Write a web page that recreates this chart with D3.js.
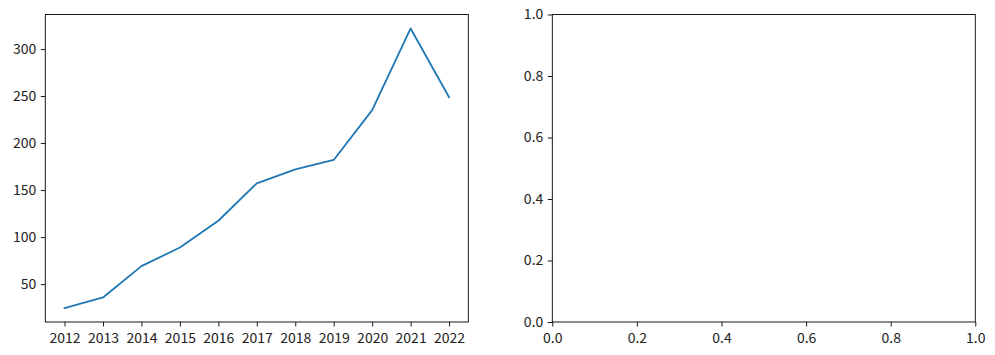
<!DOCTYPE html>
<html><head><meta charset="utf-8">
<script src="https://cdn.jsdelivr.net/npm/d3@7"></script>
<style>
html,body{margin:0;padding:0;background:#fff;}
text{font-family:"Noto Sans CJK KR","Noto Sans",sans-serif;}
</style>
</head><body>
<svg id="c" width="995" height="355"></svg>
<script>
const years = [2012,2013,2014,2015,2016,2017,2018,2019,2020,2021,2022];
const values = [24.6,35.8,69.2,88.9,117.4,157.2,172,182,235,321.8,248.7];
const leftYTicks = [50,100,150,200,250,300];
const rightTicks = [0,0.2,0.4,0.6,0.8,1.0];

const svg = d3.select("#c");
const fs = 14;
const plotTop = 14.5, plotBottom = 322;

function styleAxis(g){
  g.selectAll(".domain").remove();
  g.selectAll(".tick line").attr("stroke","#000").attr("stroke-width",0.9);
  g.selectAll(".tick text").attr("fill","#222").style("font-size",fs+"px")
   .style("font-family",'"Noto Sans CJK KR","Noto Sans",sans-serif');
}

// Left panel
{
  const L = 45.3, R = 468.3;
  const x = d3.scaleLinear().domain([2011.5,2022.5]).range([L,R]);
  const ext = d3.extent(values), pad = (ext[1]-ext[0])*0.05;
  const y = d3.scaleLinear().domain([ext[0]-pad, ext[1]+pad]).range([plotBottom, plotTop]);
  const g = svg.append("g");
  g.append("path").datum(values)
    .attr("fill","none").attr("stroke","#1f77b4").attr("stroke-width",1.8)
    .attr("stroke-linejoin","round").attr("stroke-linecap","square")
    .attr("d", d3.line().x((d,i)=>x(years[i])).y(d=>y(d)));
  const ax = g.append("g").attr("transform",`translate(0,${plotBottom})`)
    .call(d3.axisBottom(x).tickValues(years).tickFormat(d3.format("d")).tickSize(4.5).tickPadding(6.5));
  styleAxis(ax);
  const ay = g.append("g").attr("transform",`translate(${L},0)`)
    .call(d3.axisLeft(y).tickValues(leftYTicks).tickFormat(d3.format("d")).tickSize(4.5).tickPadding(4.5));
  styleAxis(ay);
  g.append("rect").attr("x",L).attr("y",plotTop).attr("width",R-L).attr("height",plotBottom-plotTop)
    .attr("fill","none").attr("stroke","#000").attr("stroke-width",0.9);
}

// Right panel
{
  const L = 552.3, R = 975.3;
  const x = d3.scaleLinear().domain([0,1]).range([L,R]);
  const y = d3.scaleLinear().domain([0,1]).range([plotBottom, plotTop]);
  const g = svg.append("g");
  const ax = g.append("g").attr("transform",`translate(0,${plotBottom})`)
    .call(d3.axisBottom(x).tickValues(rightTicks).tickFormat(d3.format(".1f")).tickSize(4.5).tickPadding(6.5));
  styleAxis(ax);
  const ay = g.append("g").attr("transform",`translate(${L},0)`)
    .call(d3.axisLeft(y).tickValues(rightTicks).tickFormat(d3.format(".1f")).tickSize(4.5).tickPadding(4.5));
  styleAxis(ay);
  g.append("rect").attr("x",L).attr("y",plotTop).attr("width",R-L).attr("height",plotBottom-plotTop)
    .attr("fill","none").attr("stroke","#000").attr("stroke-width",0.9);
}
</script>
</body></html>
